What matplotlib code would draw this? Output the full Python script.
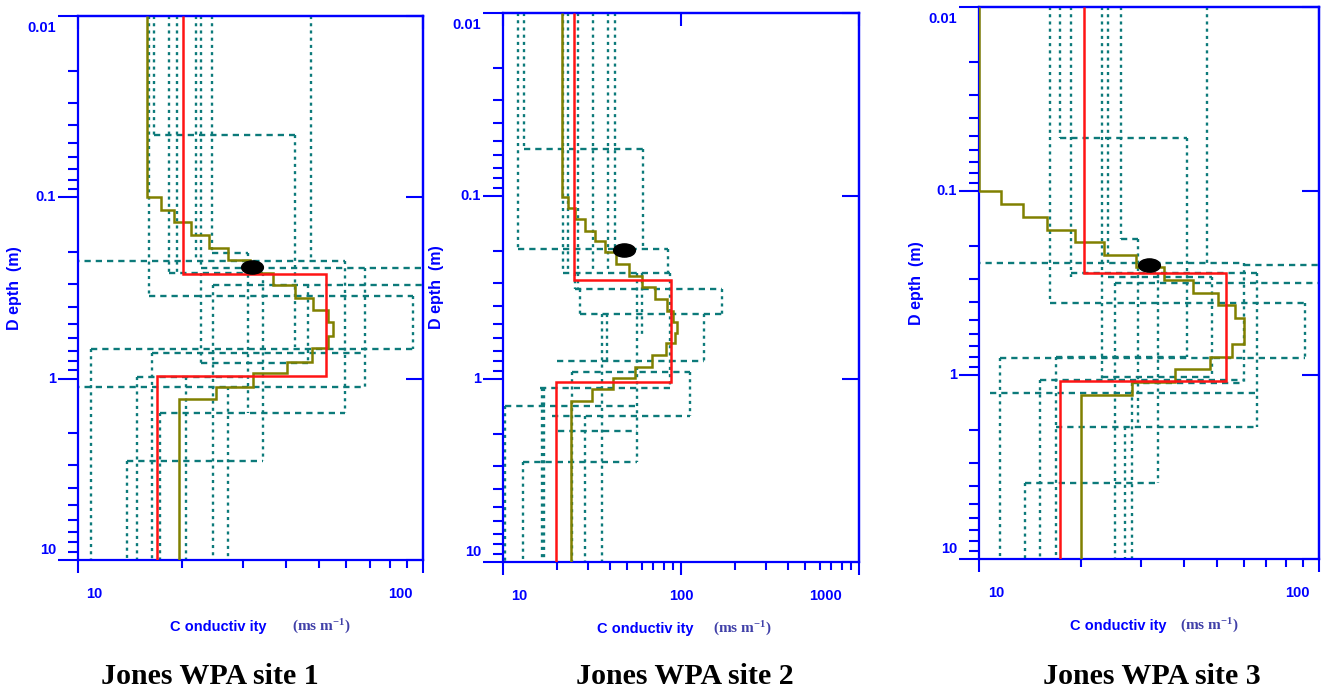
import matplotlib
matplotlib.use('Agg')
import numpy as np
import matplotlib.pyplot as plt
from matplotlib.markers import MarkerStyle
from matplotlib.transforms import Affine2D, blended_transform_factory
from matplotlib.ticker import FixedLocator, LogLocator, NullLocator, NullFormatter

plt.rcParams['lines.scale_dashes'] = False
plt.rcParams['mathtext.fontset'] = 'custom'
plt.rcParams['mathtext.rm'] = 'Liberation Serif'
plt.rcParams['mathtext.bf'] = 'Liberation Serif:bold'
plt.rcParams['mathtext.it'] = 'Liberation Serif:italic'

BLUE = '#0000ff'
TEAL = '#0c7a7a'
RED = '#ff1414'
OLIVE = '#808000'
UNIT_COLOR = '#4040a8'

# ------------------------------------------------------------------ data
titles = ['Jones WPA site 1', 'Jones WPA site 2', 'Jones WPA site 3']
x_limits = [(10, 100), (10, 1000), (10, 100)]
x_ticks = [[10, 100], [10, 100, 1000], [10, 100]]
x_tick_labels = [['10', '100'], ['10', '100', '1000'], ['10', '100']]
y_ticks = [0.01, 0.1, 1, 10]
y_tick_labels = ['0.01', '0.1', '1', '10']

# best-fit 3-layer models (red): layer boundaries (depth, m) and conductivity (mS/m)
red_edges_1 = [0.01, 0.265, 0.964, 10]
red_cond_1 = [20.2, 52.3, 16.9]
red_edges_2 = [0.01, 0.288, 1.04, 10]
red_cond_2 = [25.1, 87.5, 19.9]
red_edges_3 = [0.01, 0.28, 1.078, 10]
red_cond_3 = [20.3, 53.2, 17.3]

# smooth multi-layer inversions (olive)
olive_edges_1 = [0.01, 0.1, 0.1175, 0.137, 0.161, 0.19, 0.223, 0.261, 0.306, 0.358,
                 0.418, 0.49, 0.58, 0.68, 0.81, 0.935, 1.11, 1.30, 10]
olive_cond_1 = [15.9, 17.4, 19.0, 21.2, 24.0, 27.3, 31.5, 36.7, 42.6, 48.1, 53.2,
                55.0, 53.2, 47.8, 40.3, 32.2, 25.2, 19.6]
olive_edges_2 = [0.01, 0.101, 0.116, 0.134, 0.155, 0.176, 0.203, 0.236, 0.273, 0.316,
                 0.365, 0.424, 0.486, 0.563, 0.638, 0.739, 0.857, 0.991, 1.134, 1.314, 10]
olive_cond_2 = [21.5, 23.1, 25.4, 28.9, 32.9, 37.4, 43.0, 51.0, 60.1, 71.4, 83.1,
                90.5, 95.3, 92.5, 82.4, 68.7, 55.0, 41.7, 31.5, 24.0]
olive_edges_3 = [0.01, 0.1, 0.118, 0.138, 0.162, 0.189, 0.222, 0.26, 0.305, 0.358,
                 0.419, 0.49, 0.679, 0.795, 0.931, 1.087, 1.285, 10]
olive_cond_3 = [10.0, 11.6, 13.5, 15.9, 19.15, 23.3, 28.9, 35.0, 42.6, 50.3, 56.6,
                60.0, 55.5, 47.7, 37.7, 28.1, 20.0]

# black marker (conductivity, depth)
marker_1 = (31.9, 0.242)
marker_2 = (48.0, 0.197)
marker_3 = (31.7, 0.252)

# equivalent models (teal): vertical pieces (cond, depth top, depth bottom)
equiv_vert_1 = [(10.9, 0.689, 10), (13.9, 2.85, 10), (14.8, 0.976, 10), (16.1, 0.01, 0.349),
                (16.4, 0.725, 10), (16.6, 0.01, 0.0453), (17.25, 1.55, 10), (18.4, 0.01, 0.263),
                (19.3, 0.01, 0.263), (20.5, 0.976, 10), (22.0, 0.01, 0.225), (22.8, 0.01, 0.246),
                (22.8, 0.263, 0.824), (24.5, 0.01, 0.204), (24.7, 0.306, 10), (27.2, 1.117, 10),
                (31.2, 0.204, 1.55), (34.4, 0.263, 2.85), (42.5, 0.0453, 0.667), (46.4, 0.306, 0.824),
                (47.5, 0.01, 0.225), (59.3, 0.225, 1.55), (67.8, 0.246, 1.117), (93.5, 0.349, 0.689)]
# horizontal pieces (depth, cond left, cond right)
equiv_horz_1 = [(0.0453, 16.6, 42.5), (0.204, 24.5, 31.2), (0.225, 9.0, 59.3), (0.246, 22.8, 120),
                (0.263, 18.4, 34.4), (0.306, 24.7, 120), (0.349, 16.1, 93.5), (0.689, 10.9, 93.5),
                (0.725, 16.4, 67.8), (0.824, 22.8, 46.4), (0.976, 14.8, 30.0), (1.117, 9.0, 67.8),
                (1.55, 17.25, 59.3), (2.85, 13.9, 34.4)]

equiv_vert_2 = [(10.26, 1.40, 10), (12.2, 0.01, 0.1955), (13.0, 2.85, 10), (13.1, 0.01, 0.0553),
                (16.5, 1.124, 10), (16.9, 1.124, 10), (21.8, 0.01, 0.265), (23.2, 0.01, 0.265),
                (24.5, 0.912, 10), (25.4, 0.265, 0.3236), (26.5, 0.01, 0.3236), (27.1, 0.3236, 0.443),
                (28.9, 1.59, 10), (32.2, 0.01, 0.265), (35.8, 0.443, 10), (38.5, 0.443, 0.80),
                (38.7, 0.01, 0.265), (42.6, 0.01, 0.1955), (56.4, 0.265, 2.85), (60.1, 0.265, 0.60),
                (61.4, 0.0553, 0.1955), (84.6, 0.1955, 0.265), (86.8, 0.265, 1.124),
                (112.3, 0.912, 1.59), (135.2, 0.443, 0.80), (170.0, 0.3236, 0.443)]
equiv_horz_2 = [(0.0553, 13.1, 61.4), (0.1955, 12.2, 84.6), (0.265, 21.8, 86.8), (0.3236, 25.4, 170),
                (0.443, 27.1, 170), (0.80, 20.0, 135.2), (0.912, 24.5, 112.3), (1.124, 16.1, 86.8),
                (1.40, 10.26, 56.4), (1.59, 18.8, 112.3), (1.917, 20.4, 56.4), (2.85, 13.0, 56.4)]

equiv_vert_3 = [(11.5, 0.811, 10), (13.7, 3.88, 10), (15.1, 1.065, 10), (16.2, 0.01, 0.408),
                (16.9, 0.795, 10), (17.3, 0.01, 0.0517), (18.7, 0.01, 0.292), (23.0, 0.01, 1.065),
                (24.0, 0.01, 0.254), (25.1, 0.317, 10), (26.2, 0.01, 0.1834), (26.8, 1.91, 10),
                (28.2, 1.105, 10), (29.3, 0.1834, 1.91), (33.7, 0.28, 3.88), (40.8, 0.0517, 0.795),
                (46.7, 0.01, 0.247), (48.4, 0.292, 1.021), (60.3, 0.247, 1.105), (65.7, 0.28, 1.91),
                (91.0, 0.408, 0.811)]
equiv_horz_3 = [(0.0517, 17.3, 40.8), (0.1834, 26.2, 29.3), (0.247, 9.0, 60.3), (0.254, 60.3, 120),
                (0.28, 18.7, 65.7), (0.292, 24.0, 48.4), (0.317, 25.1, 120), (0.408, 16.2, 91.0),
                (0.795, 16.9, 40.8), (0.811, 11.5, 91.0), (1.021, 23.0, 48.4), (1.065, 15.1, 60.3),
                (1.105, 28.2, 60.3), (1.253, 10.8, 65.7), (1.91, 16.9, 65.7), (3.88, 13.7, 34.1)]

panels = [
    dict(red=(red_edges_1, red_cond_1), olive=(olive_edges_1, olive_cond_1), mark=marker_1,
         vert=equiv_vert_1, horz=equiv_horz_1),
    dict(red=(red_edges_2, red_cond_2), olive=(olive_edges_2, olive_cond_2), mark=marker_2,
         vert=equiv_vert_2, horz=equiv_horz_2),
    dict(red=(red_edges_3, red_cond_3), olive=(olive_edges_3, olive_cond_3), mark=marker_3,
         vert=equiv_vert_3, horz=equiv_horz_3),
]

# ------------------------------------------------------------------ layout (pixels)
W, H = 1322, 691
boxes = [(78, 16, 423, 560), (503, 13, 859, 562), (979, 7, 1319, 559)]
xlab_dx = [[16, -23], [16, 0, -33], [17, -22]]
ylab_dy = [-12, 0, 0, 10]
ylabel_dx = [-63, -66, -62]
xlabel_dx = [92, 94, 91]
unit_dx = [214, 210, 201]
title_x = [210, 685, 1152]

fig = plt.figure(figsize=(W / 100, H / 100), dpi=100)

vert_ls = (0, (2.2, 3.0))
horz_ls = (0, (4.5, 3.6))
tick_font = dict(family='Liberation Sans', weight='bold', size=10.5, color=BLUE)

for i, p in enumerate(panels):
    x0, y0, x1, y1 = boxes[i]
    ax = fig.add_axes([x0 / W, 1 - y1 / H, (x1 - x0) / W, (y1 - y0) / H])
    ax.set_xscale('log')
    ax.set_yscale('log')

    for c, dt, db in p['vert']:
        ax.plot([c, c], [dt, db], color=TEAL, lw=1.7, ls=vert_ls, zorder=2)
    for d, cl, cr in p['horz']:
        ax.plot([cl, cr], [d, d], color=TEAL, lw=1.7, ls=horz_ls, zorder=2)

    oe, oc = p['olive']
    ax.stairs(oc, oe, orientation='horizontal', baseline=None, color=OLIVE, lw=1.8, zorder=3)
    re, rc = p['red']
    ax.stairs(rc, re, orientation='horizontal', baseline=None, color=RED, lw=1.8, zorder=4)

    mk = MarkerStyle('o', transform=Affine2D().scale(1.65, 1.0))
    ax.plot([p['mark'][0]], [p['mark'][1]], ls='none', marker=mk, ms=9.5,
            color='black', zorder=5)

    ax.set_xlim(*x_limits[i])
    ax.set_ylim(10, 0.01)

    for s in ax.spines.values():
        s.set_color(BLUE)
        s.set_linewidth(1.6)

    ax.xaxis.set_major_locator(FixedLocator(x_ticks[i]))
    ax.xaxis.set_minor_locator(LogLocator(base=10, subs=np.arange(2, 10)))
    ax.yaxis.set_major_locator(FixedLocator(y_ticks))
    ax.yaxis.set_minor_locator(LogLocator(base=10, subs=np.arange(2, 10)))
    ax.xaxis.set_minor_formatter(NullFormatter())
    ax.yaxis.set_minor_formatter(NullFormatter())
    ax.tick_params(axis='y', which='major', left=True, right=False, direction='out',
                   length=14.4, width=1.5, color=BLUE, labelleft=False)
    ax.tick_params(axis='y', which='minor', left=True, right=False, direction='out',
                   length=7.2, width=1.5, color=BLUE)
    ax.tick_params(axis='x', which='major', bottom=True, top=False, direction='out',
                   length=9.4, width=1.5, color=BLUE, labelbottom=False)
    ax.tick_params(axis='x', which='minor', bottom=True, top=False, direction='out',
                   length=5.8, width=1.5, color=BLUE)

    sec_y = ax.secondary_yaxis('right')
    sec_y.yaxis.set_major_locator(FixedLocator(y_ticks))
    sec_y.yaxis.set_minor_locator(NullLocator())
    sec_y.tick_params(axis='y', which='major', direction='in', length=12, width=1.5,
                      color=BLUE, labelright=False)
    for s in sec_y.spines.values():
        s.set_color(BLUE)
        s.set_linewidth(1.6)

    sec_x = ax.secondary_xaxis('top')
    sec_x.xaxis.set_major_locator(FixedLocator(x_ticks[i]))
    sec_x.xaxis.set_minor_locator(NullLocator())
    sec_x.tick_params(axis='x', which='major', direction='in', length=9.4, width=1.5,
                      color=BLUE, labeltop=False)
    for s in sec_x.spines.values():
        s.set_color(BLUE)
        s.set_linewidth(1.6)

    # tick labels
    ytr = blended_transform_factory(ax.transAxes, ax.transData)
    for v, lab, dy in zip(y_ticks, y_tick_labels, ylab_dy):
        ax.annotate(lab, xy=(0, v), xycoords=ytr, xytext=(-22, dy), textcoords='offset pixels',
                    ha='right', va='center', annotation_clip=False, **tick_font)
    xtr = blended_transform_factory(ax.transData, ax.transAxes)
    for v, lab, dx in zip(x_ticks[i], x_tick_labels[i], xlab_dx[i]):
        ax.annotate(lab, xy=(v, 0), xycoords=xtr, xytext=(dx, -34), textcoords='offset pixels',
                    ha='center', va='center', annotation_clip=False, **tick_font)

    # axis labels
    ax.annotate('D epth  (m)', xy=(0, 0.5), xycoords='axes fraction', xytext=(ylabel_dx[i], 0),
                textcoords='offset pixels', rotation=90, ha='center', va='center',
                family='Liberation Sans', weight='bold', size=11.5, color=BLUE,
                annotation_clip=False)
    ax.annotate('C onductiv ity', xy=(0, 0), xycoords='axes fraction', xytext=(xlabel_dx[i], -67),
                textcoords='offset pixels', ha='left', va='center',
                family='Liberation Sans', weight='bold', size=10.5, color=BLUE,
                annotation_clip=False)
    ax.annotate(r'(ms m$^{\mathbf{-1}}$)', xy=(0, 0), xycoords='axes fraction',
                xytext=(unit_dx[i], -67), textcoords='offset pixels', ha='left', va='center',
                family='Liberation Serif', weight='bold', size=11, color=UNIT_COLOR,
                annotation_clip=False)

    fig.text(title_x[i] / W, 1 - 676 / H, titles[i], ha='center', va='center',
             family='Liberation Serif', weight='bold', size=21.5, color='black')

fig.savefig('out.png', dpi=100)
